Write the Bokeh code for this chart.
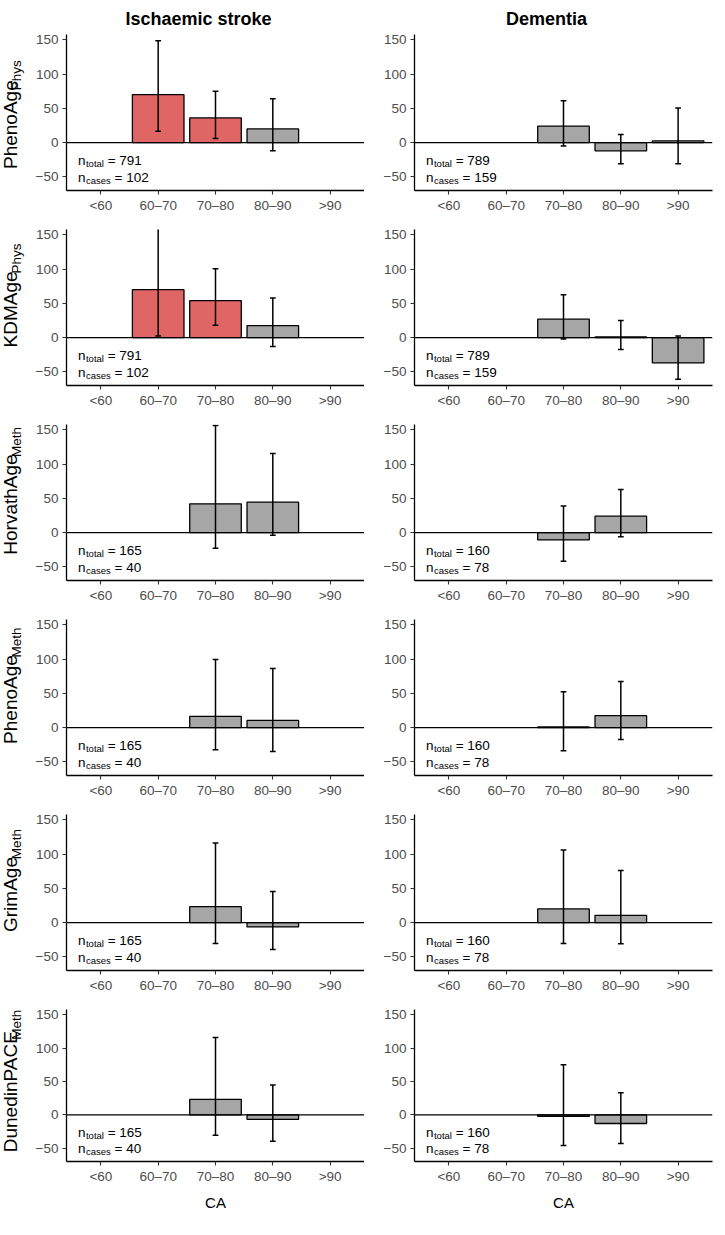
import math
from bokeh.plotting import figure
from bokeh.models import Range1d, FixedTicker, Span, Label, ColumnDataSource, CustomJSTickFormatter
from bokeh.core.properties import value
from bokeh.layouts import column, row
from bokeh.embed import file_html
from bokeh.resources import INLINE

# ---------------- data ----------------
categories = ["<60", "60–70", "70–80", "80–90", ">90"]
outcomes = ["Ischaemic stroke", "Dementia"]
clock_names = ["PhenoAge", "KDMAge", "HorvathAge", "PhenoAge", "GrimAge", "DunedinPACE"]
clock_subs = ["Phys", "Phys", "Meth", "Meth", "Meth", "Meth"]

n_total_stroke = [791, 791, 165, 165, 165, 165]
n_cases_stroke = [102, 102, 40, 40, 40, 40]
n_total_dementia = [789, 789, 160, 160, 160, 160]
n_cases_dementia = [159, 159, 78, 78, 78, 78]

nan = float("nan")
stroke_est = [
    [nan, 70.0, 36.0, 20.0, nan],
    [nan, 70.0, 54.0, 17.5, nan],
    [nan, nan, 42.0, 44.5, nan],
    [nan, nan, 16.5, 10.5, nan],
    [nan, nan, 23.3, -6.3, nan],
    [nan, nan, 23.3, -6.8, nan],
]
stroke_lower = [
    [nan, 16.5, 6.0, -12.0, nan],
    [nan, 2.4, 18.0, -13.0, nan],
    [nan, nan, -23.0, -4.0, nan],
    [nan, nan, -32.5, -35.0, nan],
    [nan, nan, -30.6, -39.3, nan],
    [nan, nan, -30.6, -39.8, nan],
]
stroke_upper = [
    [nan, 149.0, 75.0, 64.0, nan],
    [nan, 168.0, 100.5, 58.0, nan],
    [nan, nan, 156.5, 115.5, nan],
    [nan, nan, 99.5, 86.4, nan],
    [nan, nan, 116.5, 45.6, nan],
    [nan, nan, 116.0, 44.7, nan],
]
dementia_est = [
    [nan, nan, 24.0, -12.0, 2.4],
    [nan, nan, 27.0, 1.0, -37.0],
    [nan, nan, -10.7, 24.0, nan],
    [nan, nan, 1.0, 17.5, nan],
    [nan, nan, 20.0, 10.7, nan],
    [nan, nan, -2.4, -13.0, nan],
]
dementia_lower = [
    [nan, nan, -5.0, -31.0, -31.0],
    [nan, nan, -2.0, -17.5, -61.0],
    [nan, nan, -41.7, -6.0, nan],
    [nan, nan, -34.0, -17.5, nan],
    [nan, nan, -30.6, -31.0, nan],
    [nan, nan, -46.0, -43.0, nan],
]
dementia_upper = [
    [nan, nan, 61.0, 12.0, 50.5],
    [nan, nan, 62.6, 25.0, 2.4],
    [nan, nan, 39.0, 63.0, nan],
    [nan, nan, 52.4, 67.5, nan],
    [nan, nan, 106.0, 76.0, nan],
    [nan, nan, 75.0, 33.0, nan],
]

# ---------------- styling helpers ----------------
FONT = "Liberation Sans"
RED = "#E06666"
GREY = "#A6A6A6"

WID = {"P": 667, "h": 556, "e": 556, "n": 556, "o": 556, "A": 667, "g": 556, "K": 667,
       "D": 722, "M": 833, "H": 722, "r": 333, "v": 500, "a": 556, "t": 278, "G": 778,
       "i": 222, "m": 833, "u": 556, "d": 556, "C": 722, "E": 667, "y": 500, "s": 500,
       "l": 222, "c": 500, " ": 278, "=": 584}
WID_B = {"I": 278, "s": 556, "c": 556, "h": 611, "a": 556, "e": 556, "m": 889, "i": 278,
         " ": 278, "t": 333, "r": 389, "o": 611, "k": 556, "D": 722, "n": 611}


def tw(s, size, table=WID):
    return sum(table.get(ch, 556) for ch in s) * size / 1000.0


H = 156
LABEL_W = 28
LEFT_B, RIGHT_B = 38, 50
FRAME_W = 298


def borders(r):
    top_b = 34 if r == 0 else 4
    bot_b = 48 if r == 5 else 35
    return top_b, bot_b


def make_panel(r, c):
    est = (stroke_est if c == 0 else dementia_est)[r]
    lo = (stroke_lower if c == 0 else dementia_lower)[r]
    hi = (stroke_upper if c == 0 else dementia_upper)[r]
    ntot = (n_total_stroke if c == 0 else n_total_dementia)[r]
    ncas = (n_cases_stroke if c == 0 else n_cases_dementia)[r]

    top_b, bot_b = borders(r)
    lb = LEFT_B if c == 0 else RIGHT_B
    rb = 0 if c == 0 else 3
    p = figure(width=lb + FRAME_W + rb, height=top_b + H + bot_b,
               x_range=Range1d(0.4, 5.6), y_range=Range1d(-70, 158),
               output_backend="svg", toolbar_location=None, tools="")
    p.min_border_left = lb
    p.min_border_right = rb
    p.min_border_top = top_b
    p.min_border_bottom = bot_b
    p.outline_line_color = None
    p.xgrid.visible = False
    p.ygrid.visible = False
    p.background_fill_color = "white"
    p.border_fill_color = "white"

    xs, tops, los, his, cols = [], [], [], [], []
    for i, cat in enumerate(categories):
        if math.isfinite(est[i]):
            xs.append(i + 1)
            tops.append(est[i])
            los.append(lo[i])
            his.append(hi[i])
            cols.append(RED if (lo[i] > 0 or hi[i] < 0) else GREY)
    src = ColumnDataSource(dict(x=xs, top=tops, lo=los, hi=his, color=cols,
                                xl=[x - 0.05 for x in xs], xr=[x + 0.05 for x in xs]))
    p.vbar(x="x", top="top", bottom=0, width=0.9, fill_color="color",
           line_color="black", line_width=1.3, source=src)
    p.add_layout(Span(location=0, dimension="width", line_color="black", line_width=1.3))
    p.segment(x0="x", y0="lo", x1="x", y1="hi", line_color="black", line_width=1.5, source=src)
    p.segment(x0="xl", y0="hi", x1="xr", y1="hi", line_color="black", line_width=1.5, source=src)
    p.segment(x0="xl", y0="lo", x1="xr", y1="lo", line_color="black", line_width=1.5, source=src)

    # axes
    for ax in (p.xaxis[0], p.yaxis[0]):
        ax.axis_line_color = "black"
        ax.axis_line_width = 1.3
        ax.major_tick_line_color = "#333333"
        ax.major_tick_line_width = 1.1
        ax.major_tick_out = 4
        ax.major_tick_in = 0
        ax.minor_tick_line_color = None
        ax.major_label_text_font = FONT
        ax.major_label_text_font_size = "13.5px"
        ax.major_label_text_color = "#4D4D4D"
    p.yaxis.ticker = FixedTicker(ticks=[-50, 0, 50, 100, 150])
    p.yaxis.formatter = CustomJSTickFormatter(
        code="return tick < 0 ? '\u2212' + Math.abs(tick) : String(tick);")
    p.yaxis.major_label_standoff = 4
    p.xaxis.ticker = FixedTicker(ticks=[1, 2, 3, 4, 5])
    p.xaxis.formatter = CustomJSTickFormatter(args=dict(labels=categories),
                                              code="return labels[Math.round(tick) - 1];")
    p.xaxis.major_label_standoff = 3
    if r == 5:
        p.xaxis.axis_label = "CA"
        p.xaxis.axis_label_text_font = FONT
        p.xaxis.axis_label_text_font_size = "15px"
        p.xaxis.axis_label_text_font_style = "normal"
        p.xaxis.axis_label_text_color = "black"
        p.xaxis.axis_label_standoff = 7

    # n annotations
    fs, ss = 13.5, 9.5
    for yv, sub, num in ((-26, "total", ntot), (-51, "cases", ncas)):
        common = dict(x=0.6, y=yv, x_units="data", y_units="data", text_font=FONT,
                      text_color="black", text_align="left", text_baseline="alphabetic")
        p.add_layout(Label(text="n", text_font_size=f"{fs}px", **common))
        p.add_layout(Label(text=sub, text_font_size=f"{ss}px", x_offset=tw("n", fs) + 0.5,
                           y_offset=-3, **common))
        p.add_layout(Label(text=f"= {num}", text_font_size=f"{fs}px",
                           x_offset=tw("n", fs) + 0.5 + tw(sub, ss) + tw(" ", fs), **common))

    # column titles
    if r == 0:
        tfs = 18
        p.title.text = outcomes[c]
        p.title.text_font = FONT
        p.title.text_font_size = f"{tfs}px"
        p.title.text_font_style = "bold"
        p.title.text_color = "black"
        p.title.align = "left"
        p.title.offset = 132 - tw(outcomes[c], tfs, WID_B) / 2
        p.title.standoff = 11
    return p


def make_ylabel(r):
    top_b, bot_b = borders(r)
    fh = top_b + H + bot_b
    lf = figure(width=LABEL_W, height=fh, x_range=Range1d(0, LABEL_W), y_range=Range1d(0, fh),
                output_backend="svg", toolbar_location=None, tools="",
                x_axis_type=None, y_axis_type=None)
    lf.min_border_left = 0
    lf.min_border_right = 0
    lf.min_border_top = 0
    lf.min_border_bottom = 0
    lf.outline_line_color = None
    lf.xgrid.visible = False
    lf.ygrid.visible = False
    lf.background_fill_color = "white"
    lf.border_fill_color = "white"
    main, sub = clock_names[r], clock_subs[r]
    mfs, sfs = 19, 13.5
    k = 1.2  # spacing allowance for rendered widths
    wm, wsub = k * tw(main, mfs), k * tw(sub, sfs)
    total = wm + wsub
    center = min(bot_b + H / 2, fh - 3 - total / 2)
    y0 = center - total / 2
    base_x = 17
    lf.text(x=[base_x - 0.35 * mfs], y=[y0 + wm / 2], text=[main], angle=math.pi / 2,
            text_font=value(FONT), text_font_size=f"{mfs}px", text_align="center",
            text_baseline="middle", text_color="black")
    lf.text(x=[base_x + 4 - 0.35 * sfs], y=[y0 + wm + wsub / 2], text=[sub], angle=math.pi / 2,
            text_font=value(FONT), text_font_size=f"{sfs}px", text_align="center",
            text_baseline="middle", text_color="black")
    return lf


rows = []
for r in range(6):
    rows.append(row(make_ylabel(r), make_panel(r, 0), make_panel(r, 1)))
layout = column(*rows)

open("out.html", "w").write(file_html(layout, INLINE))
